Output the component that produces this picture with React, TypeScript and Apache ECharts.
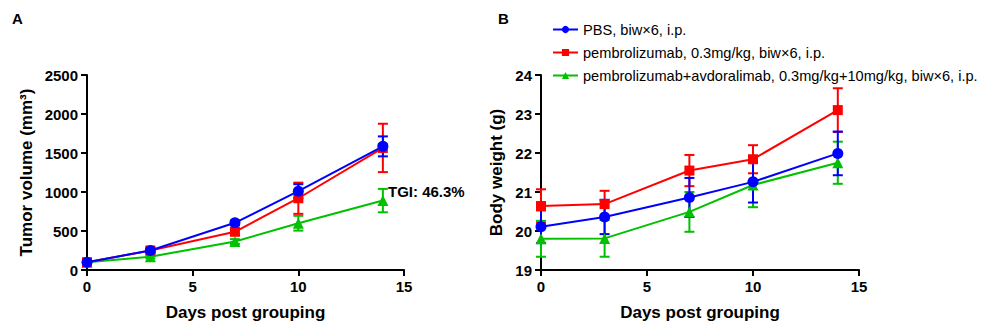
import React, { useEffect, useRef } from "react";
import * as echarts from "echarts";

const days = [0, 3, 7, 10, 14];

const seriesNames = [
  "PBS, biw×6, i.p.",
  "pembrolizumab, 0.3mg/kg, biw×6, i.p.",
  "pembrolizumab+avdoralimab, 0.3mg/kg+10mg/kg, biw×6, i.p.",
];
const seriesColors = ["#0000FF", "#FF0000", "#00C000"];
const seriesSymbols = ["circle", "rect", "triangle"];
const seriesSymbolSizes = [11, 10, 11];

// Panel A: tumor volume (mm3), mean and error
const tvPBS = [100, 250, 605, 1010, 1585];
const tvPBSErr = [15, 25, 30, 90, 128];
const tvPembro = [100, 250, 490, 920, 1565];
const tvPembroErr = [20, 30, 40, 200, 310];
const tvCombo = [100, 170, 365, 600, 890];
const tvComboErr = [10, 20, 30, 95, 150];

// Panel B: body weight (g), mean and error
const bwPBS = [20.11, 20.36, 20.86, 21.26, 21.99];
const bwPBSErr = [0.42, 0.44, 0.5, 0.53, 0.56];
const bwPembro = [20.64, 20.69, 21.55, 21.84, 23.1];
const bwPembroErr = [0.43, 0.34, 0.4, 0.36, 0.56];
const bwCombo = [19.8, 19.81, 20.49, 21.18, 21.75];
const bwComboErr = [0.46, 0.47, 0.51, 0.57, 0.54];

const xTicks = [0, 5, 10, 15];
const tvTicks = [0, 500, 1000, 1500, 2000, 2500];
const bwTicks = [19, 20, 21, 22, 23, 24];

const FONT = "'Liberation Sans', Arial, Helvetica, sans-serif";

export default function App() {
  const ref = useRef<HTMLDivElement>(null);

  useEffect(() => {
    if (!ref.current) return;
    const chart = echarts.init(ref.current, null, { renderer: "svg" });

    const panels = [
      { means: [tvPBS, tvPembro, tvCombo], errs: [tvPBSErr, tvPembroErr, tvComboErr] },
      { means: [bwPBS, bwPembro, bwCombo], errs: [bwPBSErr, bwPembroErr, bwComboErr] },
    ];

    const axisCommon = {
      axisLine: { show: true, onZero: false, lineStyle: { color: "#000", width: 2 } },
      axisTick: { show: true, inside: false, length: 6, lineStyle: { color: "#000", width: 2 } },
      axisLabel: {
        color: "#000",
        fontWeight: "bold" as const,
        fontSize: 15,
        fontFamily: FONT,
        margin: 9,
        formatter: (v: number) => String(v),
      },
      splitLine: { show: false },
      nameTextStyle: { color: "#000", fontWeight: "bold" as const, fontSize: 17, fontFamily: FONT },
    };

    const xAxes = [0, 1].map((g) => ({
      ...axisCommon,
      type: "value",
      gridIndex: g,
      min: xTicks[0],
      max: xTicks[xTicks.length - 1],
      interval: 5,
      name: "Days post grouping",
      nameLocation: "middle",
      nameGap: 34,
    }));

    const yAxes = [
      {
        ...axisCommon,
        type: "value",
        gridIndex: 0,
        min: tvTicks[0],
        max: tvTicks[tvTicks.length - 1],
        interval: 500,
        name: "Tumor volume (mm³)",
        nameLocation: "middle",
        nameGap: 52,
      },
      {
        ...axisCommon,
        type: "value",
        gridIndex: 1,
        min: bwTicks[0],
        max: bwTicks[bwTicks.length - 1],
        interval: 1,
        name: "Body weight (g)",
        nameLocation: "middle",
        nameGap: 36,
      },
    ];

    const series: any[] = [];
    // draw order: combo, pembro, PBS (PBS on top)
    const order = [2, 1, 0];
    panels.forEach((p, g) => {
      order.forEach((i) => {
        const color = seriesColors[i];
        series.push({
          type: "custom",
          name: "err" + g + "_" + i,
          xAxisIndex: g,
          yAxisIndex: g,
          data: days.map((d, k) => [d, p.means[i][k] - p.errs[i][k], p.means[i][k] + p.errs[i][k]]),
          renderItem: (params: any, api: any) => {
            const lo = api.coord([api.value(0), api.value(1)]);
            const hi = api.coord([api.value(0), api.value(2)]);
            const cap = 5;
            const style = { stroke: color, lineWidth: 2 };
            return {
              type: "group",
              children: [
                { type: "line", shape: { x1: lo[0], y1: lo[1], x2: hi[0], y2: hi[1] }, style },
                { type: "line", shape: { x1: lo[0] - cap, y1: lo[1], x2: lo[0] + cap, y2: lo[1] }, style },
                { type: "line", shape: { x1: hi[0] - cap, y1: hi[1], x2: hi[0] + cap, y2: hi[1] }, style },
              ],
            };
          },
          z: 2,
          silent: true,
        });
        series.push({
          type: "line",
          name: seriesNames[i],
          xAxisIndex: g,
          yAxisIndex: g,
          data: days.map((d, k) => [d, p.means[i][k]]),
          symbol: seriesSymbols[i],
          symbolSize: seriesSymbolSizes[i],
          showAllSymbol: true,
          lineStyle: { color, width: 2 },
          itemStyle: { color },
          z: 3,
        });
      });
    });

    chart.setOption({
      animation: false,
      backgroundColor: "#fff",
      textStyle: { fontFamily: FONT },
      grid: [
        { left: 87, top: 75, width: 317, height: 195 },
        { left: 541, top: 75, width: 318, height: 195 },
      ],
      xAxis: xAxes,
      yAxis: yAxes,
      legend: {
        data: seriesNames,
        orient: "vertical",
        left: 547,
        top: 17,
        itemWidth: 25,
        itemHeight: 9,
        itemGap: 8,
        selectedMode: false,
        textStyle: {
          color: "#000",
          fontSize: 14.6,
          fontFamily: FONT,
          lineHeight: 15,
        },
      },
      graphic: [
        {
          type: "text",
          left: 12,
          top: 11,
          style: { text: "A", fill: "#000", font: `bold 15px ${FONT}` },
        },
        {
          type: "text",
          left: 498,
          top: 11,
          style: { text: "B", fill: "#000", font: `bold 15px ${FONT}` },
        },
        {
          type: "text",
          left: 388,
          top: 184,
          style: { text: "TGI: 46.3%", fill: "#000", font: `bold 15px ${FONT}` },
        },
      ],
      series,
    });

    return () => chart.dispose();
  }, []);

  return (
    <div
      ref={ref}
      style={{ position: "fixed", left: 0, top: 0, width: 991, height: 332, background: "#fff" }}
    />
  );
}
